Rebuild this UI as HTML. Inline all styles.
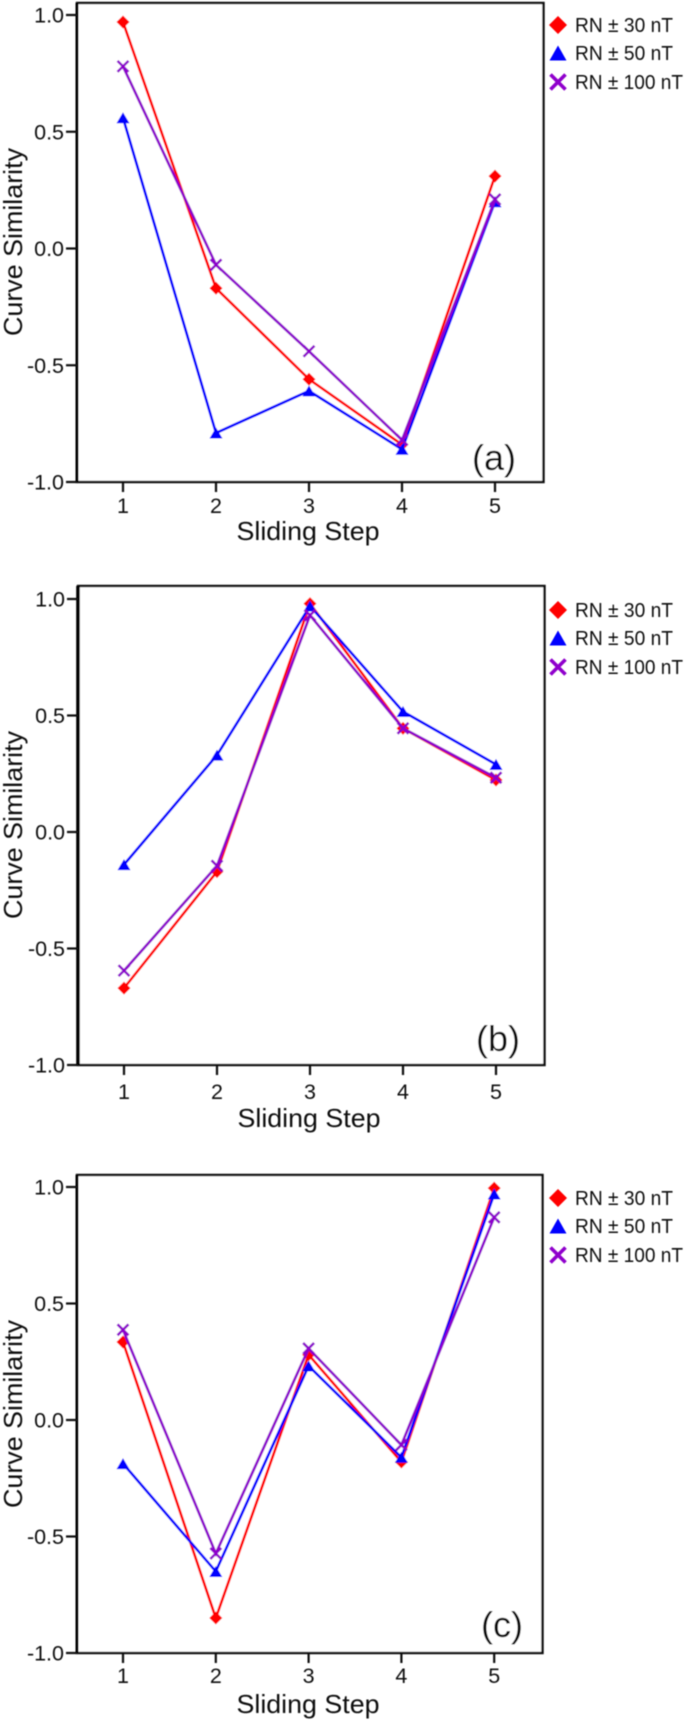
<!DOCTYPE html>
<html lang="en">
<head>
<meta charset="utf-8">
<title>Curve Similarity vs Sliding Step</title>
<style>
html,body{margin:0;padding:0;background:#fff;}
svg{display:block;}
text{font-family:"Liberation Sans",Arial,sans-serif;fill:#111;}
</style>
</head>
<body>
<svg id="figure" width="685" height="1721" viewBox="0 0 685 1721" xmlns="http://www.w3.org/2000/svg">
<defs><filter id="soft" x="-5%" y="-5%" width="110%" height="110%"><feGaussianBlur stdDeviation="0.4"/></filter></defs>
<g id="root" filter="url(#soft)"></g>
</svg>
<script>
const steps = [1, 2, 3, 4, 5];
const yTicks = [1.0, 0.5, 0.0, -0.5, -1.0];
const yTickLabels = ["1.0", "0.5", "0.0", "-0.5", "-1.0"];
const seriesNames = ["RN ± 30 nT", "RN ± 50 nT", "RN ± 100 nT"];

const panelARed = [0.97, -0.17, -0.56, -0.84, 0.31];
const panelABlue = [0.56, -0.79, -0.61, -0.86, 0.20];
const panelAPurple = [0.78, -0.07, -0.44, -0.82, 0.21];

const panelBRed = [-0.67, -0.17, 0.98, 0.445, 0.223];
const panelBBlue = [-0.14, 0.33, 0.97, 0.517, 0.29];
const panelBPurple = [-0.595, -0.145, 0.93, 0.445, 0.233];

const panelCRed = [0.335, -0.85, 0.28, -0.18, 0.995];
const panelCBlue = [-0.187, -0.65, 0.232, -0.16, 0.97];
const panelCPurple = [0.387, -0.573, 0.307, -0.107, 0.87];

const layouts = [
  {id:"a", left:77, right:543.5, top:3, yOne:15, yMinus:482, x1:123, xStep:93, tickBase:513, titleBase:540, titleX:308, titleMid:242, legend:[25,53,82], letterX:472, letterBase:470, red:panelARed, blue:panelABlue, purple:panelAPurple},
  {id:"b", left:78, right:544.5, top:586, yOne:599, yMinus:1065, x1:124, xStep:93, tickBase:1099, titleBase:1127, titleX:309, titleMid:825, legend:[610,638,667], letterX:476, letterBase:1051, red:panelBRed, blue:panelBBlue, purple:panelBPurple},
  {id:"c", left:77, right:542.5, top:1175, yOne:1187, yMinus:1653, x1:123, xStep:92.8, tickBase:1683, titleBase:1713, titleX:308, titleMid:1414, legend:[1198,1226,1255], letterX:481, letterBase:1637, red:panelCRed, blue:panelCBlue, purple:panelCPurple}
];

const RED = "#ff0000", BLUE = "#0000ff", PURPLE = "#8f00cc", INK = "#111";
const NS = "http://www.w3.org/2000/svg";
const root = document.getElementById("root");

function make(parent, tag, attrs, content) {
  const el = document.createElementNS(NS, tag);
  for (const k in attrs) el.setAttribute(k, attrs[k]);
  if (content !== undefined) el.textContent = content;
  parent.appendChild(el);
  return el;
}

function drawDiamond(parent, x, y, r, color, name) {
  const el = make(parent, "polygon", {points:[x,y-r,x+r,y,x,y+r,x-r,y].join(" "), fill:color});
  
  
}
function drawTriangle(parent, x, y, w, h, color, name) {
  const el = make(parent, "polygon", {points:[x,y-h/2,x+w/2,y+h/2,x-w/2,y+h/2].join(" "), fill:color});
  
  
}
function drawCross(parent, x, y, r, sw, color, name) {
  const el = make(parent, "path", {d:`M${x-r} ${y-r}L${x+r} ${y+r}M${x-r} ${y+r}L${x+r} ${y-r}`, stroke:color, "stroke-width":sw, fill:"none"});
  
  
}

layouts.forEach(function (p) {
  const xScale = s => p.x1 + (s - 1) * p.xStep;
  const yScale = v => p.yMinus - (v + 1) / 2 * (p.yMinus - p.yOne);

  const g = make(root, "g", {});
  
  

  const frame = make(g, "rect", {x:p.left, y:p.top, width:p.right-p.left, height:p.yMinus-p.top, fill:"#fff", stroke:INK, "stroke-width":2.4});
  
  
  const spine = make(g, "line", {x1:p.left, x2:p.left, y1:p.top, y2:p.yMinus, stroke:"#000", "stroke-width":p.id==="b"?3.6:3});
  
  

  yTicks.forEach(function (v, i) {
    const tick = make(g, "line", {x1:p.left-11, x2:p.left, y1:yScale(v), y2:yScale(v), stroke:INK, "stroke-width":2.2});
    
    
    const lab = make(g, "text", {x:p.left-13, y:yScale(v)+7.5, "text-anchor":"end", "font-size":21.5}, yTickLabels[i]);
    
    
  });

  steps.forEach(function (s) {
    const tick = make(g, "line", {x1:xScale(s), x2:xScale(s), y1:p.yMinus, y2:p.yMinus+10, stroke:INK, "stroke-width":2.2});
    
    
    const lab = make(g, "text", {x:xScale(s), y:p.tickBase, "text-anchor":"middle", "font-size":21.5}, String(s));
    
    
  });

  const xTitle = make(g, "text", {x:p.titleX, y:p.titleBase, "text-anchor":"middle", "font-size":26, textLength:143, lengthAdjust:"spacingAndGlyphs"}, "Sliding Step");
  
  
  const yTitle = make(g, "text", {x:0, y:0, transform:`translate(22 ${p.titleMid}) rotate(-90)`, "text-anchor":"middle", "font-size":26, textLength:188, lengthAdjust:"spacingAndGlyphs"}, "Curve Similarity");
  
  

  const letter = make(g, "text", {x:p.letterX, y:p.letterBase, "font-size":36}, "(" + p.id + ")");
  
  

  const redLine = make(g, "polyline", {points:steps.map((s,i)=>xScale(s)+","+yScale(p.red[i])).join(" "), fill:"none", stroke:RED, "stroke-width":2.7});
  
  
  steps.forEach((s,i)=>drawDiamond(g, xScale(s), yScale(p.red[i]), 6.5, RED, 'point-30nt'));

  const blueLine = make(g, "polyline", {points:steps.map((s,i)=>xScale(s)+","+yScale(p.blue[i])).join(" "), fill:"none", stroke:BLUE, "stroke-width":2.7});
  
  
  steps.forEach((s,i)=>drawTriangle(g, xScale(s), yScale(p.blue[i]), 13, 11, BLUE, 'point-50nt'));

  const purpleLine = make(g, "polyline", {points:steps.map((s,i)=>xScale(s)+","+yScale(p.purple[i])).join(" "), fill:"none", stroke:PURPLE, "stroke-width":2.7});
  
  
  steps.forEach((s,i)=>drawCross(g, xScale(s), yScale(p.purple[i]), 5.5, 2.6, PURPLE, 'point-100nt'));

  const legend = make(g, "g", {});
  
  
  drawDiamond(legend, 558, p.legend[0], 9, RED, 'legend-marker-30nt');
  drawTriangle(legend, 558, p.legend[1], 17, 15, BLUE, 'legend-marker-50nt');
  drawCross(legend, 558, p.legend[2], 7.5, 3.6, PURPLE, 'legend-marker-100nt');
  seriesNames.forEach(function (name, i) {
    const t = make(legend, "text", {x:575, y:p.legend[i]+7, "font-size":20, textLength:i===2?108:98, lengthAdjust:"spacingAndGlyphs"}, name);
    
    
  });
});
</script>
</body>
</html>
